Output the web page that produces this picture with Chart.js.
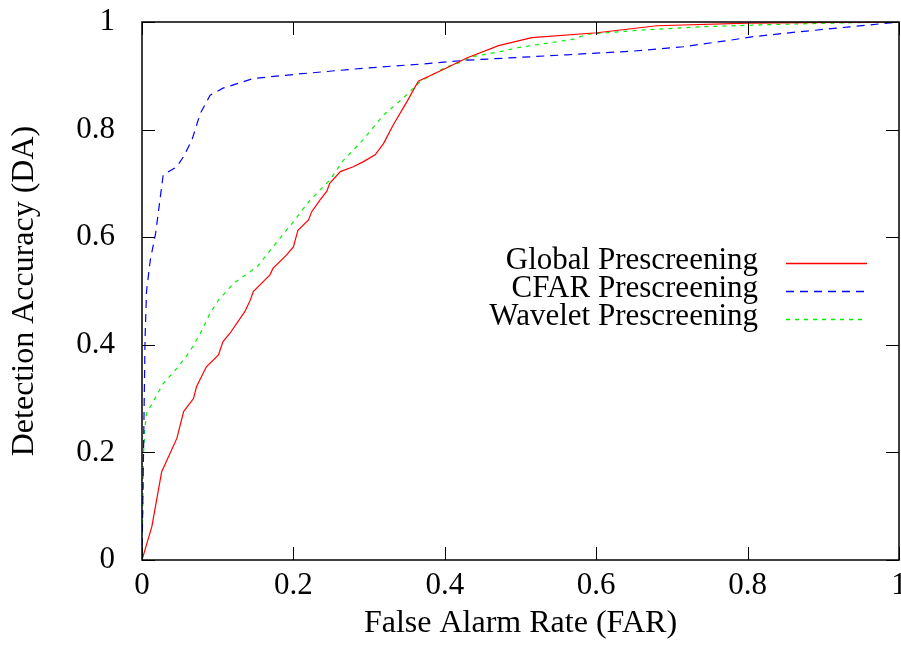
<!DOCTYPE html>
<html>
<head>
<meta charset="utf-8">
<script src="https://cdn.jsdelivr.net/npm/chart.js@4/dist/chart.umd.min.js"></script>
<style>
  html, body { margin: 0; padding: 0; background: #fff; }
  #wrap { width: 901px; height: 646px; position: relative; }
</style>
</head>
<body>
<div id="wrap"><canvas id="roc"></canvas></div>
<script>
// ROC curves: false alarm rate vs detection accuracy
var globalFar = [0, 0.013, 0.026, 0.046, 0.055, 0.068, 0.072, 0.085, 0.101, 0.107, 0.116, 0.136, 0.143, 0.147,
  0.169, 0.173, 0.191, 0.200, 0.206, 0.220, 0.224, 0.235, 0.244, 0.248, 0.262, 0.279, 0.292, 0.308, 0.319,
  0.332, 0.350, 0.365, 0.400, 0.429, 0.471, 0.515, 0.601, 0.680, 0.801, 1.0];
var globalDa = [0, 0.062, 0.164, 0.226, 0.276, 0.300, 0.322, 0.359, 0.381, 0.406, 0.421, 0.462, 0.483, 0.499,
  0.530, 0.542, 0.567, 0.582, 0.613, 0.632, 0.647, 0.669, 0.685, 0.700, 0.722, 0.731, 0.740, 0.753, 0.774,
  0.809, 0.852, 0.890, 0.913, 0.933, 0.956, 0.971, 0.980, 0.993, 0.998, 1.0];

var cfarFar = [0, 0.002, 0.004, 0.006, 0.011, 0.018, 0.028, 0.046, 0.055, 0.066, 0.077, 0.090, 0.107, 0.147,
  0.204, 0.292, 0.380, 0.429, 0.561, 0.649, 0.715, 0.781, 0.803, 0.869, 0.935, 1.0];
var cfarDa = [0, 0.200, 0.409, 0.500, 0.558, 0.607, 0.716, 0.731, 0.750, 0.781, 0.830, 0.864, 0.877, 0.895,
  0.903, 0.914, 0.923, 0.929, 0.939, 0.946, 0.954, 0.967, 0.972, 0.982, 0.991, 1.0];

var waveletFar = [0, 0.002, 0.004, 0.006, 0.011, 0.028, 0.046, 0.063, 0.077, 0.090, 0.101, 0.121, 0.152, 0.173,
  0.200, 0.222, 0.248, 0.266, 0.292, 0.319, 0.347, 0.367, 0.400, 0.420, 0.438, 0.473, 0.499, 0.570, 0.587,
  0.658, 0.737, 0.825, 0.913, 1.0];
var waveletDa = [0, 0.198, 0.248, 0.273, 0.285, 0.328, 0.356, 0.387, 0.421, 0.459, 0.483, 0.514, 0.545, 0.582,
  0.629, 0.669, 0.706, 0.743, 0.781, 0.827, 0.861, 0.889, 0.915, 0.925, 0.936, 0.945, 0.953, 0.968, 0.977,
  0.985, 0.991, 0.995, 0.998, 1.0];

var axisTicks = [0, 0.2, 0.4, 0.6, 0.8, 1];
var seriesNames = ['Global Prescreening', 'CFAR Prescreening', 'Wavelet Prescreening'];
var seriesColors = ['#ff0000', '#0000ff', '#00f000'];
var seriesDash = [[], [8, 6], [4, 5]];

var serif = '"Liberation Serif", "Times New Roman", serif';

function toPoints(xs, ys) {
  return xs.map(function (x, i) { return { x: x, y: ys[i] }; });
}

function numLabel(v) {
  return String(Math.round(v * 10) / 10);
}

// gnuplot-style frame: border plus inward ticks mirrored on all sides
var frameTicks = {
  id: 'frameTicks',
  afterDraw: function (chart) {
    var ctx = chart.ctx;
    var area = chart.chartArea;
    var xs = chart.scales.x, ys = chart.scales.y;
    var len = 13;
    ctx.save();
    ctx.strokeStyle = '#000';
    ctx.lineWidth = 1.5;
    ctx.strokeRect(area.left, area.top, area.right - area.left, area.bottom - area.top);
    ctx.lineWidth = 1;
    ctx.beginPath();
    axisTicks.forEach(function (v) {
      var px = Math.round(xs.getPixelForValue(v)) + 0.5;
      ctx.moveTo(px, area.bottom); ctx.lineTo(px, area.bottom - len);
      ctx.moveTo(px, area.top); ctx.lineTo(px, area.top + len);
      var py = Math.round(ys.getPixelForValue(v)) + 0.5;
      ctx.moveTo(area.left, py); ctx.lineTo(area.left + len, py);
      ctx.moveTo(area.right, py); ctx.lineTo(area.right - len, py);
    });
    ctx.stroke();
    ctx.restore();
  }
};

// key: right-aligned names followed by a line sample
var keyBox = {
  id: 'keyBox',
  afterDatasetsDraw: function (chart) {
    var ctx = chart.ctx;
    var textRight = 758, sampleLeft = 786, sampleRight = 867;
    var rowY = 261, rowStep = 28;
    ctx.save();
    ctx.font = '31px ' + serif;
    ctx.textAlign = 'right';
    ctx.textBaseline = 'middle';
    seriesNames.forEach(function (name, i) {
      var y = rowY + i * rowStep;
      ctx.fillStyle = '#000';
      ctx.fillText(name, textRight, y);
    });
    seriesNames.forEach(function (name, i) {
      var y = rowY + i * rowStep + 2.5;
      ctx.strokeStyle = seriesColors[i];
      ctx.lineWidth = 1.4;
      ctx.setLineDash(seriesDash[i]);
      ctx.beginPath();
      ctx.moveTo(sampleLeft, y);
      ctx.lineTo(sampleRight, y);
      ctx.stroke();
    });
    ctx.restore();
  }
};

var curves = [[globalFar, globalDa], [cfarFar, cfarDa], [waveletFar, waveletDa]];

new Chart(document.getElementById('roc'), {
  type: 'line',
  data: {
    datasets: curves.map(function (c, i) {
      return {
        label: seriesNames[i],
        data: toPoints(c[0], c[1]),
        borderColor: seriesColors[i],
        borderWidth: 1.2,
        borderDash: seriesDash[i],
        pointRadius: 0,
        tension: 0
      };
    })
  },
  options: {
    responsive: true,
    maintainAspectRatio: false,
    animation: false,
    layout: { padding: { top: 22, right: 2, left: 0, bottom: 0 } },
    plugins: {
      legend: { display: false },
      tooltip: { enabled: false }
    },
    scales: {
      x: {
        type: 'linear',
        min: 0,
        max: 1,
        border: { display: false },
        grid: { display: false, drawTicks: false },
        afterBuildTicks: function (scale) {
          scale.ticks = axisTicks.map(function (v) { return { value: v }; });
        },
        afterFit: function (scale) {
          scale.height = 86;
          scale.paddingLeft = 0;
          scale.paddingRight = 0;
        },
        ticks: {
          color: '#000',
          padding: 7,
          maxRotation: 0,
          font: { family: serif, size: 31 },
          callback: numLabel
        },
        title: {
          display: true,
          text: 'False Alarm Rate (FAR)',
          color: '#000',
          font: { family: serif, size: 32 },
          padding: { top: 0, bottom: 3 }
        }
      },
      y: {
        type: 'linear',
        min: 0,
        max: 1,
        border: { display: false },
        grid: { display: false, drawTicks: false },
        afterBuildTicks: function (scale) {
          scale.ticks = axisTicks.map(function (v) { return { value: v }; });
        },
        afterFit: function (scale) {
          scale.width = 142;
          scale.paddingTop = 0;
          scale.paddingBottom = 0;
        },
        ticks: {
          color: '#000',
          padding: 27,
          font: { family: serif, size: 31 },
          callback: numLabel
        },
        title: {
          display: true,
          text: 'Detection Accuracy (DA)',
          color: '#000',
          font: { family: serif, size: 32 },
          padding: { top: 5, bottom: 0 }
        }
      }
    }
  },
  plugins: [frameTicks, keyBox]
});
</script>
</body>
</html>
